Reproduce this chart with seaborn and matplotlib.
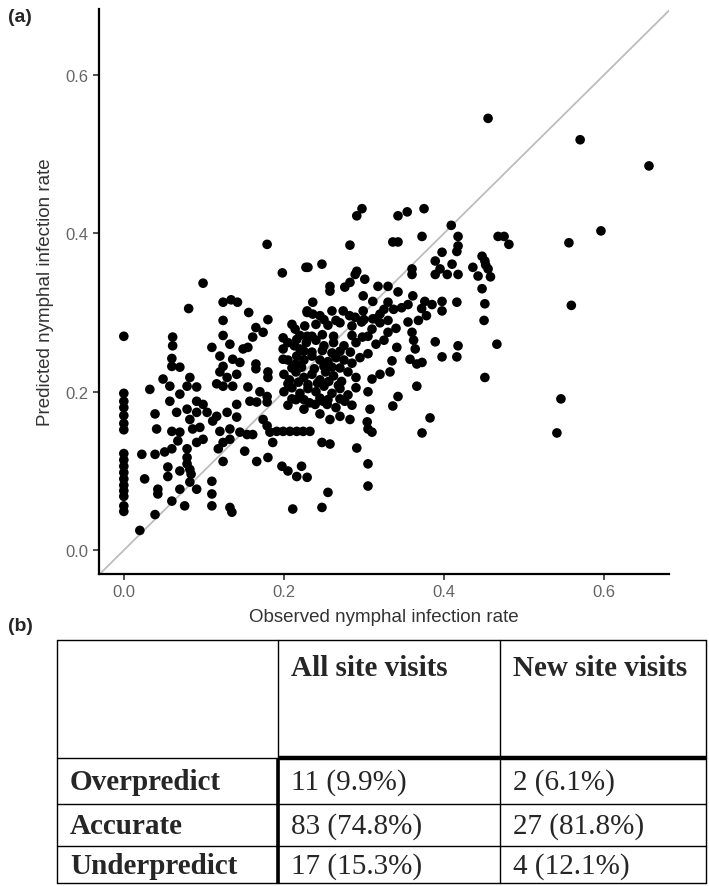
import numpy as np
import pandas as pd
import matplotlib
matplotlib.use('Agg')
import matplotlib.pyplot as plt
import seaborn as sns

# observed vs predicted nymphal infection rate
obs = [0, 0, 0, 0, 0, 0, 0, 0, 0, 0, 0, 0, 0, 0, 0, 0, 0,
       0.020, 0.026, 0.0225, 0.0325, 0.039, 0.039, 0.041, 0.039, 0.0425, 0.0425,
       0.049, 0.051, 0.055, 0.055, 0.0575, 0.0575, 0.06, 0.06, 0.06, 0.06, 0.06,
       0.061, 0.061, 0.066, 0.0675, 0.07, 0.07, 0.07, 0.07, 0.07, 0.076, 0.079,
       0.079, 0.079, 0.079, 0.079, 0.0825, 0.0825, 0.0825, 0.0825, 0.084, 0.086,
       0.081, 0.091, 0.091, 0.091, 0.091, 0.091, 0.095, 0.099, 0.099, 0.099,
       0.104, 0.11, 0.111, 0.11, 0.11, 0.11, 0.116, 0.116, 0.118, 0.12, 0.12,
       0.12, 0.124, 0.124, 0.124, 0.124, 0.124, 0.124, 0.124, 0.129, 0.129,
       0.1325, 0.1325, 0.1325, 0.1325, 0.135, 0.134, 0.136, 0.136, 0.141, 0.141,
       0.141, 0.142, 0.145, 0.145, 0.149, 0.151, 0.154, 0.155, 0.155, 0.156,
       0.1575, 0.161, 0.161, 0.165, 0.165, 0.165, 0.166, 0.166, 0.17, 0.174,
       0.174, 0.179, 0.179, 0.179, 0.179, 0.18, 0.18, 0.18, 0.18, 0.1825, 0.186,
       0.191, 0.1975, 0.198, 0.199, 0.199, 0.199, 0.199,
       0.205, 0.2075, 0.211, 0.214, 0.216, 0.216, 0.216, 0.216, 0.22, 0.222,
       0.224, 0.2275, 0.229, 0.229, 0.229, 0.2325, 0.23, 0.236, 0.239, 0.245,
       0.2475, 0.2475, 0.2475, 0.249, 0.254, 0.255, 0.2575, 0.2575, 0.2575,
       0.2575, 0.27, 0.276, 0.276, 0.2825, 0.2825, 0.2825, 0.289, 0.291, 0.291,
       0.291, 0.2975, 0.299, 0.301,
       0.229, 0.236, 0.245, 0.26, 0.274, 0.282, 0.289, 0.299,
       0.311, 0.311, 0.32, 0.325, 0.337, 0.347, 0.355,
       0.21, 0.226, 0.24, 0.255, 0.27, 0.285, 0.297, 0.31, 0.32, 0.33, 0.34,
       0.205, 0.213, 0.228, 0.24, 0.25, 0.262, 0.275, 0.29, 0.305, 0.315, 0.325,
       0.205, 0.215, 0.225, 0.235, 0.245, 0.255, 0.265, 0.275, 0.285, 0.295, 0.305,
       0.2, 0.207, 0.215, 0.225, 0.235, 0.245, 0.252, 0.262, 0.272, 0.28, 0.29,
       0.2, 0.21, 0.22, 0.23, 0.24, 0.25, 0.26, 0.27, 0.28, 0.29,
       0.205, 0.215, 0.225, 0.232, 0.265, 0.285,
       0.205, 0.218, 0.23, 0.242, 0.256, 0.268,
       0.21, 0.222, 0.238, 0.25, 0.26, 0.27,
       0.225, 0.235, 0.248, 0.26, 0.27, 0.283,
       0.22, 0.235, 0.248, 0.262, 0.285, 0.298,
       0.25, 0.265, 0.30, 0.315, 0.33,
       0.21, 0.225, 0.245, 0.255, 0.27,
       0.3075, 0.304, 0.305, 0.31, 0.305, 0.305, 0.305, 0.31, 0.32, 0.3325,
       0.3175, 0.33, 0.33, 0.335, 0.336, 0.336, 0.341, 0.3425, 0.3425, 0.3425,
       0.3425, 0.354, 0.355, 0.3575, 0.36, 0.36, 0.361, 0.36, 0.362, 0.364,
       0.366, 0.366, 0.3725, 0.3725, 0.3725, 0.375, 0.376, 0.3825, 0.389, 0.389,
       0.389, 0.3975, 0.395, 0.3975, 0.3975, 0.3975, 0.372, 0.378, 0.385, 0.368,
       0.404, 0.409, 0.41, 0.416, 0.416, 0.416, 0.4175, 0.4175, 0.4175, 0.4175,
       0.436, 0.4425, 0.4475, 0.4475, 0.451, 0.451, 0.451, 0.455, 0.452, 0.455,
       0.458, 0.45, 0.466, 0.4675, 0.475, 0.481,
       0.541, 0.546, 0.556, 0.559, 0.570, 0.596, 0.656]

pred = [0.270, 0.198, 0.188, 0.180, 0.170, 0.160, 0.152, 0.122, 0.114, 0.106,
        0.098, 0.090, 0.082, 0.075, 0.068, 0.049, 0.056,
        0.025, 0.090, 0.121, 0.203, 0.121, 0.172, 0.153, 0.045, 0.077, 0.071,
        0.216, 0.124, 0.105, 0.093, 0.207, 0.188, 0.128, 0.150, 0.062, 0.242, 0.232,
        0.269, 0.258, 0.174, 0.138, 0.149, 0.231, 0.197, 0.100, 0.077, 0.056, 0.178,
        0.207, 0.128, 0.117, 0.109, 0.102, 0.165, 0.218, 0.086, 0.096, 0.153,
        0.305, 0.188, 0.174, 0.206, 0.136, 0.077, 0.155, 0.184, 0.140, 0.337,
        0.174, 0.256, 0.163, 0.087, 0.071, 0.056, 0.169, 0.210, 0.128, 0.150, 0.245,
        0.225, 0.313, 0.290, 0.271, 0.232, 0.207, 0.136, 0.112, 0.174, 0.218,
        0.260, 0.153, 0.140, 0.054, 0.048, 0.316, 0.241, 0.207, 0.222, 0.184,
        0.168, 0.313, 0.237, 0.149, 0.254, 0.125, 0.146, 0.256, 0.206, 0.300,
        0.188, 0.146, 0.269, 0.281, 0.235, 0.229, 0.187, 0.112, 0.200, 0.275,
        0.165, 0.386, 0.194, 0.157, 0.187, 0.291, 0.225, 0.218, 0.117, 0.149, 0.136,
        0.150, 0.106, 0.350, 0.268, 0.254, 0.241, 0.150,
        0.100, 0.150, 0.052, 0.279, 0.266, 0.245, 0.093, 0.150, 0.254, 0.106,
        0.150, 0.357, 0.302, 0.270, 0.092, 0.150, 0.357, 0.313, 0.184, 0.172,
        0.361, 0.136, 0.054, 0.188, 0.184, 0.073, 0.333, 0.327, 0.165,
        0.134, 0.169, 0.332, 0.188, 0.338, 0.385, 0.165, 0.348, 0.352, 0.422,
        0.129, 0.431, 0.321, 0.342,
        0.300, 0.298, 0.296, 0.302, 0.302, 0.296, 0.294, 0.302,
        0.314, 0.292, 0.298, 0.304, 0.304, 0.306, 0.310,
        0.285, 0.283, 0.285, 0.284, 0.287, 0.283, 0.288, 0.279, 0.287, 0.275, 0.280,
        0.262, 0.258, 0.262, 0.265, 0.258, 0.262, 0.258, 0.262, 0.270, 0.260, 0.265,
        0.240, 0.235, 0.240, 0.245, 0.240, 0.238, 0.243, 0.240, 0.236, 0.243, 0.248,
        0.222, 0.215, 0.225, 0.218, 0.222, 0.215, 0.225, 0.220, 0.213, 0.225, 0.218,
        0.200, 0.205, 0.198, 0.204, 0.200, 0.207, 0.198, 0.204, 0.196, 0.205,
        0.183, 0.190, 0.178, 0.186, 0.180, 0.183,
        0.210, 0.212, 0.209, 0.211, 0.213, 0.208,
        0.230, 0.231, 0.229, 0.232, 0.231, 0.230,
        0.251, 0.250, 0.252, 0.249, 0.251, 0.250,
        0.271, 0.270, 0.272, 0.270, 0.271, 0.269,
        0.291, 0.290, 0.291, 0.292, 0.290,
        0.191, 0.190, 0.192, 0.190, 0.191,
        0.178, 0.162, 0.153, 0.149, 0.109, 0.081, 0.200, 0.216, 0.222, 0.225,
        0.333, 0.333, 0.313, 0.239, 0.182, 0.389, 0.256, 0.326, 0.422, 0.389,
        0.194, 0.427, 0.288, 0.241, 0.355, 0.348, 0.321, 0.275, 0.265, 0.254,
        0.235, 0.207, 0.237, 0.396, 0.148, 0.431, 0.314, 0.167, 0.365, 0.348,
        0.263, 0.376, 0.355, 0.314, 0.302, 0.244, 0.305, 0.296, 0.310, 0.290,
        0.348, 0.410, 0.361, 0.377, 0.313, 0.244, 0.348, 0.396, 0.384, 0.258,
        0.357, 0.346, 0.371, 0.330, 0.365, 0.311, 0.218, 0.545, 0.360, 0.355,
        0.345, 0.290, 0.260, 0.396, 0.396, 0.386,
        0.148, 0.191, 0.388, 0.309, 0.518, 0.403, 0.485]

df = pd.DataFrame({'observed': obs, 'predicted': pred})

# panel (b) table
col_labels = ['All site visits', 'New site visits']
row_labels = ['Overpredict', 'Accurate', 'Underpredict']
all_visits = ['11 (9.9%)', '83 (74.8%)', '17 (15.3%)']
new_visits = ['2 (6.1%)', '27 (81.8%)', '4 (12.1%)']

ticks = [0.0, 0.2, 0.4, 0.6]
tick_labels = ['0.0', '0.2', '0.4', '0.6']

sns.set_style('ticks')
plt.rcParams['font.family'] = ['Liberation Sans', 'DejaVu Sans']

fig = plt.figure(figsize=(7.09, 8.87), dpi=100)
W, H = 709, 887

# scatter panel
ax = fig.add_axes([99 / W, 1 - 575 / H, 570 / W, 565 / H])
ax.axline((0, 0), slope=1, color='#bdbdbd', lw=1.3, zorder=1)
sns.scatterplot(data=df, x='observed', y='predicted', ax=ax, color='black',
                s=48, edgecolor='none', linewidth=0, zorder=2)
ax.set_xlim(-0.031, 0.681)
ax.set_ylim(-0.030, 0.683)
ax.set_xticks(ticks)
ax.set_xticklabels(tick_labels)
ax.set_yticks(ticks)
ax.set_yticklabels(tick_labels)
ax.tick_params(colors='#333333', labelcolor='#666666', labelsize=12, length=4, width=1.2)
ax.set_xlabel('Observed nymphal infection rate', fontsize=13.5, color='#333333', labelpad=6)
ax.set_ylabel('Predicted nymphal infection rate', fontsize=13.5, color='#333333', labelpad=8)
sns.despine(ax=ax)
for side in ['left', 'bottom']:
    ax.spines[side].set_linewidth(1.6)
    ax.spines[side].set_color('black')

fig.text(8 / W, 1 - 18 / H, '(a)', fontsize=14, fontweight='bold', va='center', ha='left')
fig.text(8 / W, 1 - 627 / H, '(b)', fontsize=14, fontweight='bold', va='center', ha='left')

# table panel, drawn in pixel units
tab = fig.add_axes([57 / W, 1 - 884 / H, 649 / W, 243 / H])
tab.set_xlim(0, 649)
tab.set_ylim(243, 0)
tab.axis('off')

col_x = [0, 221, 443, 649]
row_y = [0, 118, 164, 206, 243]
for x in col_x:
    tab.plot([x, x], [0, 243], color='black', lw=1, clip_on=False)
for y in row_y:
    tab.plot([0, 649], [y, y], color='black', lw=1, clip_on=False)
# thick separators
tab.plot([221, 649], [118, 118], color='black', lw=3.2, clip_on=False, solid_capstyle='butt')
tab.plot([221, 221], [118, 243], color='black', lw=2.6, clip_on=False, solid_capstyle='butt')

serif = ['Liberation Serif', 'DejaVu Serif']
for i, lab in enumerate(col_labels):
    tab.text(col_x[i + 1] + 13, 28, lab, family=serif, fontsize=21, fontweight='bold',
             va='center', ha='left')
for j, lab in enumerate(row_labels):
    yc = (row_y[j + 1] + row_y[j + 2]) / 2 + 1
    tab.text(13, yc, lab, family=serif, fontsize=21, fontweight='bold', va='center', ha='left')
    tab.text(col_x[1] + 13, yc, all_visits[j], family=serif, fontsize=21, va='center', ha='left')
    tab.text(col_x[2] + 13, yc, new_visits[j], family=serif, fontsize=21, va='center', ha='left')

fig.savefig('out.png', dpi=100)
